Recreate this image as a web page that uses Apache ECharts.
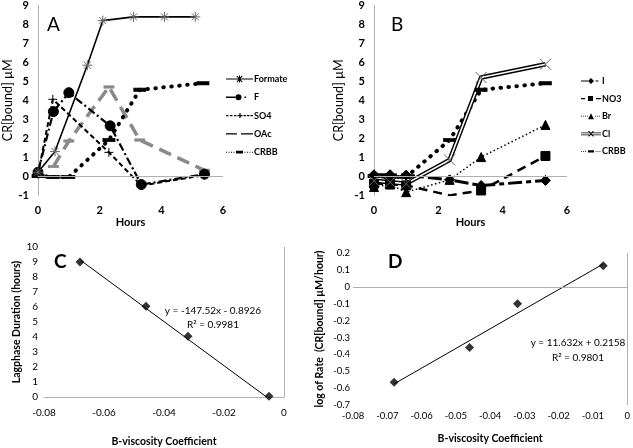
<!DOCTYPE html>
<html><head><meta charset="utf-8">
<script src="https://cdn.jsdelivr.net/npm/echarts@6/dist/echarts.min.js"></script>
<style>html,body{margin:0;padding:0;background:#fff}#c{width:633px;height:448px}</style>
</head><body><div id="c"></div>
<script>
// ---------- Panel A data (Hours, CR[bound] µM) ----------
const formateT = [0, 0.55, 1.6, 2.1, 3.1, 4.1, 5.1];
const formateV = [0.2, 1.3, 5.85, 8.2, 8.4, 8.4, 8.4];
const fT = [0, 0.5, 1, 2.34, 3.35, 5.4];
const fV = [0.2, 3.4, 4.4, 2.65, -0.45, 0.1];
const so4T = [0, 0.48, 2.3, 3.35, 5.4];
const so4V = [0.1, 4.05, 1.25, -0.5, 0.05];
const oacT = [0.5, 1, 2.3, 3.3, 5.4];
const oacV = [0.5, 1.85, 4.7, 1.9, 0.3];
const crbbAT = [0, 0.5, 1, 2.3, 3.3, 5.35];
const crbbAV = [0, -0.05, -0.05, 1.9, 4.55, 4.9];
// ---------- Panel B data ----------
const bT = [0, 0.5, 1, 2.35, 3.33, 5.33];
const iV = [0.07, 0.07, 0.05, -0.2, -0.5, -0.23];
const no3V = [-0.4, -0.42, -0.49, -1.02, -0.76, 1.06];
const brV = [-0.58, -0.45, -0.85, -0.2, 1.0, 2.7];
const clV = [-0.25, -0.33, -0.4, 0.85, 5.2, 5.9];
const crbbBV = [0, -0.05, -0.05, 1.9, 4.55, 4.9];
// ---------- Panel C / D data ----------
const bVisC = [-0.068, -0.046, -0.032, -0.005];
const lagC = [9.0, 6.05, 4.05, 0.05];
const trendCX = [-0.0677, -0.0058];
const trendCY = [9.1, 0];
const bVisD = [-0.068, -0.046, -0.032, -0.007];
const rateD = [-0.565, -0.36, -0.1, 0.125];
const trendDX = [-0.068, -0.007];
const trendDY = [-0.575, 0.135];
const legendA = ['Formate', 'F', 'SO4', 'OAc', 'CRBB'];
const legendB = ['I', 'NO3', 'Br', 'Cl', 'CRBB '];
const eqC = ['y = -147.52x - 0.8926', 'R\u00b2 = 0.9981'];
const eqD = ['y = 11.632x + 0.2158', 'R\u00b2 = 0.9801'];

const zip = (a, b) => a.map((v, i) => [v, b[i]]);
const FONT = 'Lato, "Liberation Sans", sans-serif';
const AST = 'path://M5,0V10M0,5H10M1.5,1.5L8.5,8.5M8.5,1.5L1.5,8.5';
const PLUS = 'path://M5,0V10M0,5H10';
const XM = 'path://M0,0L10,10M10,0L0,10';
const zeroH = {silent: true, symbol: 'none', label: {show: false}, lineStyle: {color: '#b0b0b0', type: 'solid', width: 1}, data: [{yAxis: 0}]};

// ----- legend icon glyphs (drawn shapes, 27x10 and 20x10 boxes) -----
const specksA = 'M0,0h0.01v0.01h-0.01z M26.99,9.99h0.01v0.01h-0.01z ';
const specksB = 'M0,0h0.01v0.01h-0.01z M19.99,9.99h0.01v0.01h-0.01z ';
function dots(x0, x1, step, h) { let s = ''; for (let x = x0; x <= x1; x += step) s += 'M' + x + ',' + (5 - h / 2) + 'h1v' + h + 'h-1z '; return s; }
function dashes(xs, w, h) { return xs.map(x => 'M' + x + ',' + (5 - h / 2) + 'h' + w + 'v' + h + 'h-' + w + 'z ').join(''); }
const icoA = {
  'Formate': specksA + 'M0,4.5h27v1H0z M13,1.5h1v7h-1z M10.5,2.2L11.2,1.5L16.5,7.8L15.8,8.5z M15.8,1.5L16.5,2.2L11.2,8.5L10.5,7.8z',
  'F': specksA + 'M0,4.3h9.3v1.4H0z M9.5,5a3,3 0 1,0 6,0a3,3 0 1,0 -6,0z M18.5,4.3h1.6v1.4h-1.6z',
  'SO4': specksA + dashes([0, 4, 8], 2.5, 1.3) + 'M11.5,4.35h5v1.3h-5z M13.4,2.5h1.2v5h-1.2z ' + dashes([17.5, 21, 24.5], 2.5, 1.3),
  'OAc': specksA + 'M0,4.3h11v1.4H0z M15,4.3h12v1.4h-12z',
  'CRBB': specksA + dots(0, 8, 2.5, 1) + 'M10,3.6h7v2.8h-7z ' + dots(18.5, 26, 2.5, 1)
};
const icoB = {
  'I': specksB + 'M0,4.4h7v1.2H0z M10,2L13,5L10,8L7,5z M14.5,4.4h3v1.2h-3z',
  'NO3': specksB + 'M0,4.3h4v1.4H0z M7,2.5h5v5h-5z M15,4.3h5v1.4h-5z',
  'Br': specksB + dots(0, 6, 2, 0.8) + 'M10,2L13,8H7z ' + dots(14, 19, 2, 0.8),
  'Cl': specksB + 'M0,3.6h20v0.8H0z M0,5.6h20v0.8H0z M7.2,2.7L7.9,2L12.8,7.3L12.1,8z M12.1,2L12.8,2.7L7.9,8L7.2,7.3z',
  'CRBB ': specksB + dots(0, 5, 2, 0.9) + 'M7,3.8h6v2.4h-6z ' + dots(14.5, 19, 2, 0.9)
};
const legItem = (ico) => (n) => ({name: n, icon: 'path://' + ico[n], itemStyle: {color: '#000', borderWidth: 0}});

const tickLab = {color: '#000', fontFamily: FONT, fontWeight: 'bold', fontSize: 11};
function hoursX(grid) {
  return {gridIndex: grid, type: 'value', min: 0, max: 6, interval: 2,
    axisLine: {show: false}, axisTick: {show: false}, splitLine: {show: false},
    axisLabel: Object.assign({margin: 10}, tickLab),
    name: 'Hours', nameLocation: 'middle', nameGap: 22,
    nameTextStyle: {color: '#000', fontFamily: FONT, fontWeight: 'bold', fontSize: 11}};
}
function crY(grid, gap) {
  return {gridIndex: grid, type: 'value', min: -1, max: 9, interval: 1,
    axisLine: {show: true, onZero: false, lineStyle: {color: '#b0b0b0'}}, axisTick: {show: false}, splitLine: {show: false},
    axisLabel: Object.assign({margin: 9}, tickLab),
    name: 'CR[bound] \u00b5M', nameLocation: 'middle', nameGap: gap,
    nameTextStyle: {color: '#000', fontFamily: FONT, fontSize: 12.5}};
}
const fmt2 = v => String(+v.toFixed(2));
const smallLab = {color: '#000', fontFamily: FONT, fontSize: 10};
const boldName = {color: '#000', fontFamily: FONT, fontWeight: 'bold', fontSize: 10.5};

function ln(name, x, y, data, ls, sym, size, extra) {
  return Object.assign({name: name, type: 'line', xAxisIndex: x, yAxisIndex: y, data: data,
    symbol: sym, symbolSize: size, showSymbol: sym !== 'none', animation: false,
    lineStyle: ls, itemStyle: {color: ls.color, borderColor: ls.color, borderWidth: 1}}, extra || {});
}

const option = {
  animation: false,
  backgroundColor: '#fff',
  grid: [
    {left: 32, top: 4, width: 191, height: 191},
    {left: 374, top: 4, width: 193, height: 191},
    {left: 44, top: 247, width: 240, height: 157},
    {left: 353, top: 253, width: 279, height: 152}
  ],
  xAxis: [
    hoursX(0), hoursX(1),
    {gridIndex: 2, type: 'value', min: -0.08, max: 0, interval: 0.02,
      axisLine: {show: true, onZero: false, lineStyle: {color: '#b0b0b0'}}, axisTick: {show: false}, splitLine: {show: false},
      axisLabel: Object.assign({margin: 11, formatter: fmt2}, smallLab),
      name: 'B-viscosity Coefficient', nameLocation: 'middle', nameGap: 39, nameTextStyle: boldName},
    {gridIndex: 3, type: 'value', min: -0.08, max: 0, interval: 0.01,
      axisLine: {show: false}, axisTick: {show: false}, splitLine: {show: false},
      axisLabel: Object.assign({margin: 6, formatter: fmt2}, smallLab, {fontSize: 9.5}),
      name: 'B-viscosity Coefficient', nameLocation: 'middle', nameGap: 28, nameTextStyle: boldName}
  ],
  yAxis: [
    crY(0, 24), crY(1, 29),
    {gridIndex: 2, type: 'value', min: 0, max: 10, interval: 1,
      axisLine: {show: false}, axisTick: {show: false}, splitLine: {show: false},
      axisLabel: Object.assign({margin: 6}, smallLab),
      name: 'Lagphase Duration (hours)', nameLocation: 'middle', nameGap: 22, nameTextStyle: boldName},
    {gridIndex: 3, type: 'value', min: -0.7, max: 0.2, interval: 0.1,
      axisLine: {show: false}, axisTick: {show: false}, splitLine: {show: false},
      axisLabel: Object.assign({margin: 3, formatter: fmt2}, smallLab, {fontSize: 9.5}),
      name: 'log of Rate  (CR[bound] \u00b5M/hour)', nameLocation: 'middle', nameGap: 28, nameTextStyle: boldName}
  ],
  legend: [
    {data: legendA.map(legItem(icoA)), left: 221, top: 69, orient: 'vertical', itemWidth: 27, itemHeight: 10, itemGap: 8.3,
      textStyle: {fontFamily: FONT, fontSize: 9, fontWeight: 'bold', color: '#000', padding: [0, 0, 0, -4]}},
    {data: legendB.map(legItem(icoB)), left: 576, top: 71, orient: 'vertical', itemWidth: 20, itemHeight: 10, itemGap: 7.6,
      textStyle: {fontFamily: FONT, fontSize: 9, fontWeight: 'bold', color: '#000', padding: [0, 0, 0, -4]}}
  ],
  graphic: [
    {type: 'text', left: 47, top: 15, style: {text: 'A', font: '19px ' + FONT, fill: '#000'}},
    {type: 'text', left: 391, top: 15, style: {text: 'B', font: '19px ' + FONT, fill: '#000'}},
    {type: 'text', left: 54, top: 252, style: {text: 'C', font: 'bold 19px ' + FONT, fill: '#000'}},
    {type: 'text', left: 388, top: 252, style: {text: 'D', font: 'bold 19px ' + FONT, fill: '#000'}},
    {type: 'text', x: 213, y: 311, style: {text: eqC[0], font: '10px ' + FONT, fill: '#000', textAlign: 'center', textVerticalAlign: 'middle'}},
    {type: 'text', x: 213, y: 325, style: {text: eqC[1], font: '10px ' + FONT, fill: '#000', textAlign: 'center', textVerticalAlign: 'middle'}},
    {type: 'text', x: 578, y: 343, style: {text: eqD[0], font: '10px ' + FONT, fill: '#000', textAlign: 'center', textVerticalAlign: 'middle'}},
    {type: 'text', x: 578, y: 358, style: {text: eqD[1], font: '10px ' + FONT, fill: '#000', textAlign: 'center', textVerticalAlign: 'middle'}}
  ],
  series: [
    // Panel A
    ln('OAc', 0, 0, zip(oacT, oacV), {color: '#8a8a8a', width: 3.5, type: [13, 7]}, 'rect', [9, 2.5], {markLine: zeroH, z: 1}),
    ln('CRBB', 0, 0, zip(crbbAT, crbbAV), {color: '#000', width: 4, type: [0.5, 7.5], cap: 'round'}, 'rect', [11, 3.5]),
    ln('SO4', 0, 0, zip(so4T, so4V), {color: '#000', width: 2, type: [5, 3]}, PLUS, 9),
    ln('F', 0, 0, zip(fT, fV), {color: '#000', width: 2.2, type: [8, 3, 2, 3]}, 'circle', 10),
    ln('Formate', 0, 0, zip(formateT, formateV), {color: '#000', width: 1.6, type: 'solid'}, AST, 10,
       {itemStyle: {color: '#666', borderColor: '#666', borderWidth: 1}}),
    // Panel B
    ln('CRBB ', 1, 1, zip(bT, crbbBV), {color: '#000', width: 4, type: [0.5, 7.5], cap: 'round'}, 'rect', [11, 3.5], {markLine: zeroH}),
    ln('Br', 1, 1, zip(bT, brV), {color: '#000', width: 1.5, type: [1.5, 2.5]}, 'triangle', 9),
    ln('NO3', 1, 1, zip(bT, no3V), {color: '#000', width: 2.5, type: [9, 6]}, 'rect', 9),
    ln('I', 1, 1, zip(bT, iV), {color: '#000', width: 3, type: [14, 4, 5, 4]}, 'diamond', 10),
    ln('Cl', 1, 1, zip(bT, clV), {color: '#000', width: 4.5, type: 'solid'}, XM, 11,
       {itemStyle: {color: '#666', borderColor: '#666', borderWidth: 1}}),
    ln('Cl-inner', 1, 1, zip(bT, clV), {color: '#fff', width: 1.6, type: 'solid'}, 'none', 0),
    // Panel C
    ln('trendC', 2, 2, zip(trendCX, trendCY), {color: '#000', width: 1, type: 'solid'}, 'none', 0,
       {markLine: {silent: true, symbol: 'none', label: {show: false}, lineStyle: {color: '#b0b0b0', type: 'solid', width: 1}, data: [{xAxis: 0}]}}),
    {name: 'lagC', type: 'scatter', xAxisIndex: 2, yAxisIndex: 2, data: zip(bVisC, lagC), symbol: 'diamond', symbolSize: 9, itemStyle: {color: '#000'}},
    // Panel D
    ln('trendD', 3, 3, zip(trendDX, trendDY), {color: '#000', width: 1, type: 'solid'}, 'none', 0,
       {markLine: {silent: true, symbol: 'none', label: {show: false}, lineStyle: {color: '#b0b0b0', type: 'solid', width: 1}, data: [{yAxis: 0}, {xAxis: 0}]}}),
    {name: 'rateD', type: 'scatter', xAxisIndex: 3, yAxisIndex: 3, data: zip(bVisD, rateD), symbol: 'diamond', symbolSize: 9, itemStyle: {color: '#000'}}
  ]
};
const chart = echarts.init(document.getElementById('c'), null, {renderer: 'canvas'});
chart.setOption(option);
</script>
</body></html>
